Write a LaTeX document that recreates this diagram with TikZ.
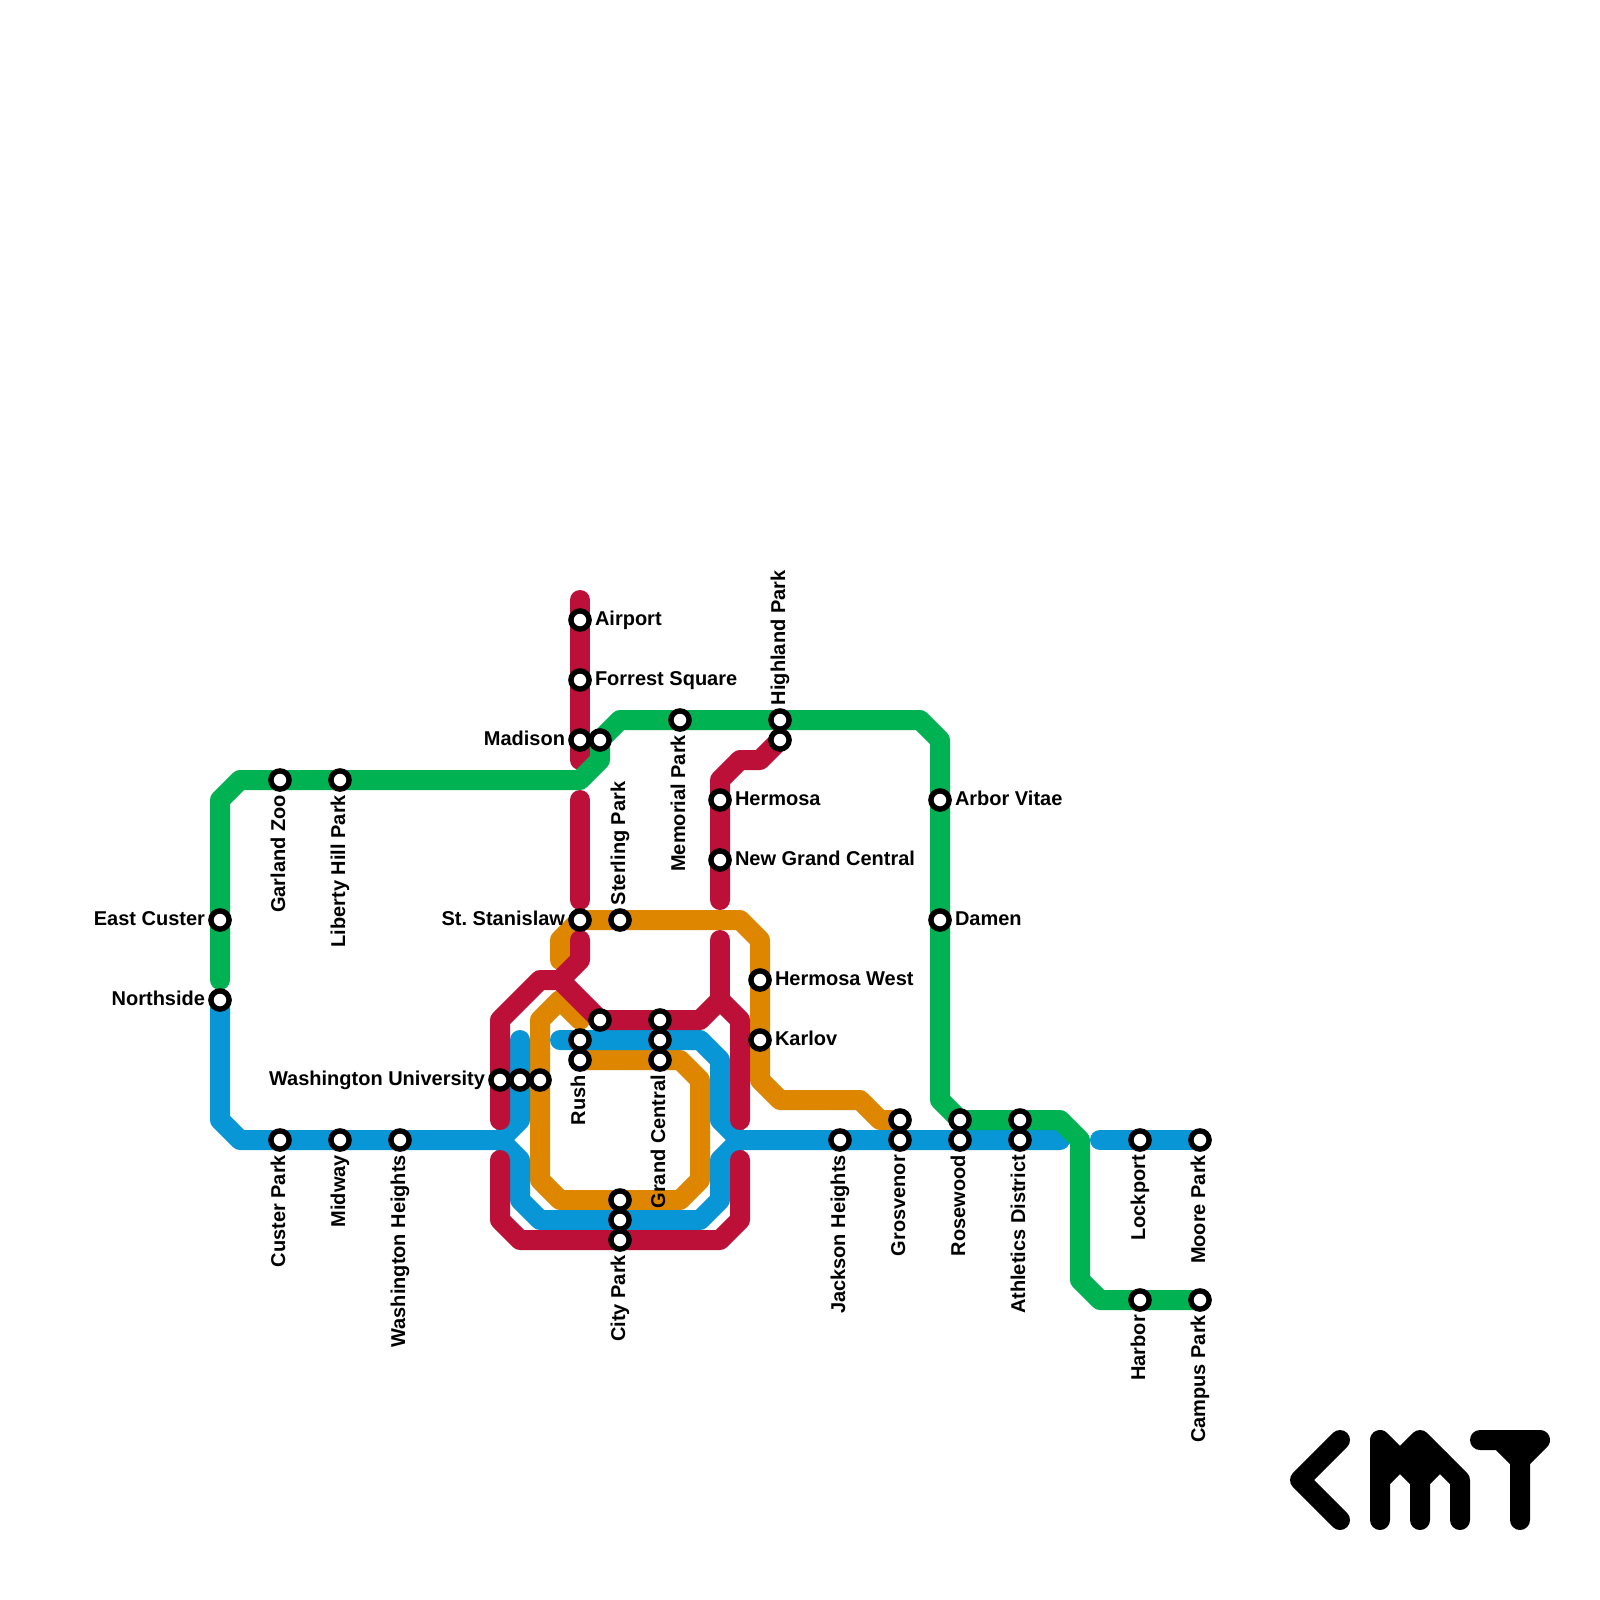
\documentclass[tikz,border=0pt]{standalone}
\usepackage{fontspec}
\setmainfont{Liberation Sans}[BoldFont={Liberation Sans Bold}]
\definecolor{lred}{HTML}{BD1038}
\definecolor{lgreen}{HTML}{00B251}
\definecolor{lblue}{HTML}{0896D7}
\definecolor{lorange}{HTML}{DF8600}
\tikzset{
  mline/.style={line width=20pt,line cap=round,line join=round},
  stn/.style={circle,draw=black,fill=white,line width=5.4pt,minimum size=18.2pt,inner sep=0pt,outer sep=0pt},
  lab/.style={font=\fontsize{20pt}{22pt}\selectfont\bfseries,text=black,inner sep=0pt,outer sep=0pt},
  rl/.style={lab,anchor=base west},
  ll/.style={lab,anchor=base east},
  bl/.style={lab,rotate=90,anchor=base east},
  tl/.style={lab,rotate=90,anchor=base west},
}
\begin{document}
\begin{tikzpicture}[x=1pt,y=-1pt]
\useasboundingbox (0,0) rectangle (1600,1600);
% orange
\draw[mline,lorange] (560,960) -- (560,940) -- (580,920) -- (740,920) -- (760,940) -- (760,1080) -- (780,1100) -- (860,1100) -- (880,1120) -- (900,1120);
\draw[mline,lorange] (580,1020) -- (560,1000) -- (540,1020) -- (540,1180) -- (560,1200) -- (680,1200) -- (700,1180) -- (700,1080) -- (680,1060) -- (580,1060);
% blue
\draw[mline,lblue] (220,1000) -- (220,1120) -- (240,1140) -- (500,1140) -- (520,1120) -- (520,1040);
\draw[mline,lblue] (500,1140) -- (520,1160) -- (520,1200) -- (540,1220) -- (700,1220) -- (720,1200) -- (720,1160) -- (740,1140) -- (1060,1140);
\draw[mline,lblue] (740,1140) -- (720,1120) -- (720,1060) -- (700,1040) -- (560,1040);
\draw[mline,lblue] (1100,1140) -- (1200,1140);
% red
\draw[mline,lred] (580,600) -- (580,760);
\draw[mline,lred] (580,800) -- (580,900);
\draw[mline,lred] (580,940) -- (580,960) -- (560,980) -- (540,980) -- (500,1020) -- (500,1120);
\draw[mline,lred] (500,1160) -- (500,1220) -- (520,1240) -- (720,1240) -- (740,1220) -- (740,1160);
\draw[mline,lred] (560,980) -- (600,1020) -- (700,1020) -- (720,1000) -- (740,1020) -- (740,1120);
\draw[mline,lred] (720,1000) -- (720,940);
\draw[mline,lred] (720,900) -- (720,780) -- (740,760) -- (760,760) -- (780,740);
% green
\draw[mline,lgreen] (220,980) -- (220,800) -- (240,780) -- (580,780) -- (600,760) -- (600,740) -- (620,720) -- (920,720) -- (940,740) -- (940,1100) -- (960,1120) -- (1060,1120) -- (1080,1140) -- (1080,1280) -- (1100,1300) -- (1200,1300);
% stations
\foreach \n/\x/\y in {a/580/620,b/580/680,c/580/740,d/600/740,e/680/720,f/780/720,g/780/740,h/720/800,i/720/860,j/940/800,k/940/920,l/760/980,m/760/1040,n/280/780,o/340/780,p/220/920,q/220/1000,r/280/1140,s/340/1140,t/400/1140,u/500/1080,v/520/1080,w/540/1080,x/580/920,y/620/920,z/600/1020,aa/580/1040,ab/580/1060,ac/660/1020,ad/660/1040,ae/660/1060,af/620/1200,ag/620/1220,ah/620/1240,ai/840/1140,aj/900/1120,ak/900/1140,al/960/1120,am/960/1140,an/1020/1120,ao/1020/1140,ap/1140/1140,aq/1200/1140,ar/1140/1300,as/1200/1300}
  \node[stn] (s\n) at (\x,\y) {};
% labels
\node[rl] (t1) at (595,625) {Airport};
\node[rl] (t2) at (595,685) {Forrest Square};
\node[ll] (t3) at (565,745) {Madison};
\node[rl] (t4) at (735,805) {Hermosa};
\node[rl] (t5) at (735,865) {New Grand Central};
\node[rl] (t6) at (955,805) {Arbor Vitae};
\node[rl] (t7) at (955,925) {Damen};
\node[rl] (t8) at (775,985) {Hermosa West};
\node[rl] (t9) at (775,1045) {Karlov};
\node[ll] (t10) at (565,925) {St.\ Stanislaw};
\node[ll] (t11) at (205,925) {East Custer};
\node[ll] (t12) at (205,1005) {Northside};
\node[ll] (t13) at (485,1085) {Washington University};
\node[tl] (t14) at (785,705) {Highland Park};
\node[tl] (t15) at (625,905) {Sterling Park};
\node[bl] (t16) at (285,795) {Garland Zoo};
\node[bl] (t17) at (345,795) {Liberty Hill Park};
\node[bl] (t18) at (685,735) {Memorial Park};
\node[bl] (t19) at (285,1155) {Custer Park};
\node[bl] (t20) at (345,1155) {Midway};
\node[bl] (t21) at (405,1155) {Washington Heights};
\node[bl] (t22) at (585,1075) {Rush};
\node[bl] (t23) at (665,1075) {Grand Central};
\node[bl] (t24) at (625,1255) {City Park};
\node[bl] (t25) at (845,1155) {Jackson Heights};
\node[bl] (t26) at (905,1155) {Grosvenor};
\node[bl] (t27) at (965,1155) {Rosewood};
\node[bl] (t28) at (1025,1155) {Athletics District};
\node[bl] (t29) at (1145,1155) {Lockport};
\node[bl] (t30) at (1205,1155) {Moore Park};
\node[bl] (t31) at (1145,1315) {Harbor};
\node[bl] (t32) at (1205,1315) {Campus Park};
% logo
\draw[mline,black] (1340,1440) -- (1300,1480) -- (1340,1520);
\draw[mline,black] (1380,1520) -- (1380,1440) -- (1420,1480) -- (1420,1520);
\draw[mline,black] (1380,1480) -- (1420,1440) -- (1460,1480) -- (1460,1520);
\draw[mline,black] (1420,1480) -- (1440,1460);
\draw[mline,black] (1380,1460) -- (1420,1460);
\draw[mline,black] (1480,1440) -- (1540,1440) -- (1520,1460) -- (1520,1520);
\draw[mline,black] (1500,1440) -- (1520,1460);
\end{tikzpicture}
\end{document}
